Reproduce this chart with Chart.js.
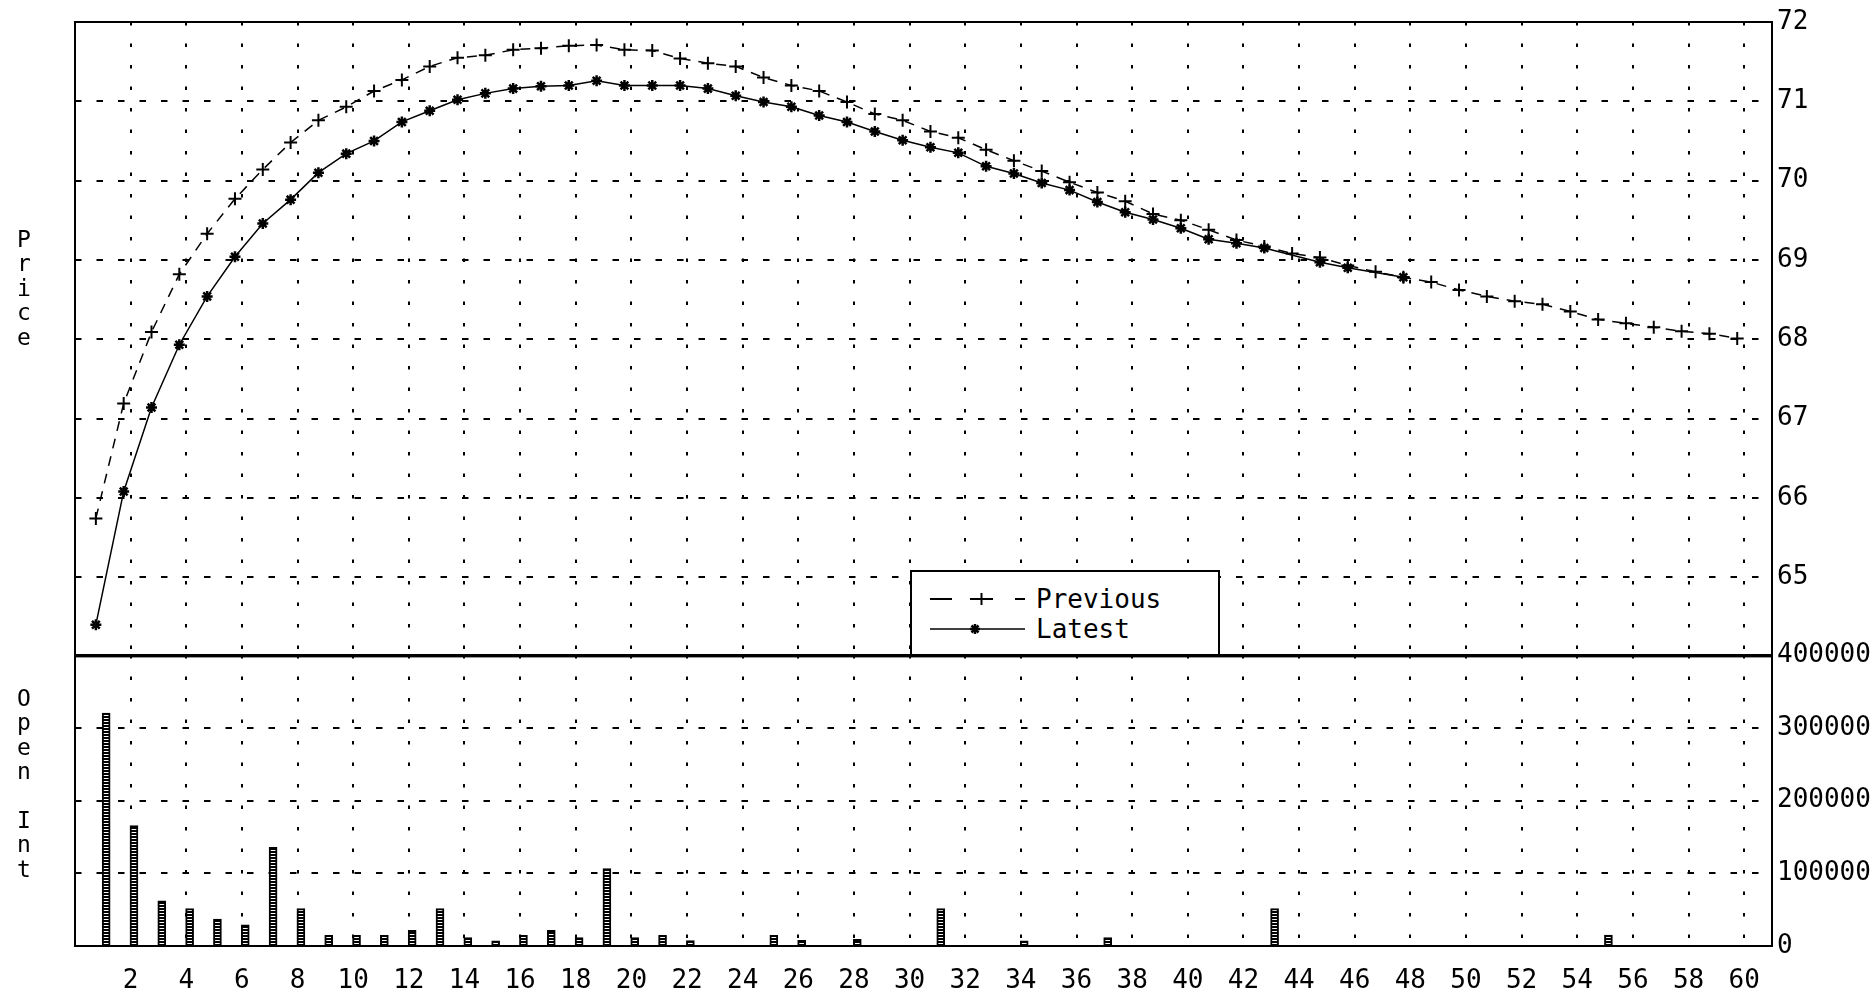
<!DOCTYPE html>
<html lang="en">
<head>
<meta charset="UTF-8">
<title>Price / Open Int</title>
<script src="https://cdn.jsdelivr.net/npm/chart.js@4.4.0/dist/chart.umd.min.js"></script>
<style>
    body { margin: 0; background: #fff; }
    #wrap { position: relative; width: 1875px; height: 992px; overflow: hidden; font-family: "DejaVu Sans Mono", monospace; color: #000; }
    #priceCanvas { position: absolute; left: 0; top: 0; }
    #oiCanvas { position: absolute; left: 0; top: 630px; }
    .ytitle { position: absolute; left: 12px; width: 24px; text-align: center; font-size: 23px; line-height: 24.4px; }
    #legend { position: absolute; left: 910px; top: 570px; width: 310px; height: 86px; box-sizing: border-box; border: 2px solid #000; background: #fff; }
    #legend .row { position: absolute; left: 18px; height: 26px; display: flex; align-items: center; }
    #legend span { position: absolute; left: 106px; font-size: 26px; line-height: 26px; white-space: nowrap; }
</style>
</head>
<body>
<div id="wrap">
    <canvas id="priceCanvas" width="1875" height="677"></canvas>
    <canvas id="oiCanvas" width="1875" height="362"></canvas>
    <div class="ytitle" style="top:227px">P<br>r<br>i<br>c<br>e</div>
    <div class="ytitle" style="top:686px">O<br>p<br>e<br>n<br><br>I<br>n<br>t</div>
    <div id="legend">
        <div class="row" style="top:14px">
            <svg width="96" height="26">
                <line x1="0" y1="13" x2="22" y2="13" stroke="#000" stroke-width="2"/>
                <line x1="40" y1="13" x2="63" y2="13" stroke="#000" stroke-width="2"/>
                <line x1="51.5" y1="7" x2="51.5" y2="19" stroke="#000" stroke-width="2"/>
                <line x1="85" y1="13" x2="95" y2="13" stroke="#000" stroke-width="2"/>
            </svg>
            <span>Previous</span>
        </div>
        <div class="row" style="top:44px">
            <svg width="96" height="26">
                <line x1="0" y1="13" x2="95" y2="13" stroke="#000" stroke-width="1.5"/>
                <g stroke="#000" stroke-width="2.5">
                    <line x1="40" y1="13" x2="50" y2="13"/>
                    <line x1="45" y1="8" x2="45" y2="18"/>
                    <line x1="41.5" y1="9.5" x2="48.5" y2="16.5"/>
                    <line x1="48.5" y1="9.5" x2="41.5" y2="16.5"/>
                </g>
            </svg>
            <span>Latest</span>
        </div>
    </div>
</div>

<script>
    // contract days shown on the x axis
    const days = [1, 2, 3, 4, 5, 6, 7, 8, 9, 10, 11, 12, 13, 14, 15, 16, 17, 18, 19, 20,
                  21, 22, 23, 24, 25, 26, 27, 28, 29, 30, 31, 32, 33, 34, 35, 36, 37, 38, 39, 40,
                  41, 42, 43, 44, 45, 46, 47, 48, 49, 50, 51, 52, 53, 54, 55, 56, 57, 58, 59, 60];

    const previous = [65.74, 67.19, 68.09, 68.82, 69.33, 69.77, 70.14, 70.48, 70.76, 70.93,
                      71.13, 71.27, 71.44, 71.55, 71.58, 71.65, 71.67, 71.70, 71.71, 71.65,
                      71.64, 71.54, 71.48, 71.44, 71.30, 71.20, 71.13, 70.99, 70.84, 70.76,
                      70.62, 70.54, 70.39, 70.25, 70.12, 69.98, 69.85, 69.74, 69.58, 69.50,
                      69.38, 69.25, 69.17, 69.08, 69.03, 68.93, 68.85, 68.78, 68.72, 68.62,
                      68.54, 68.48, 68.44, 68.35, 68.25, 68.20, 68.15, 68.10, 68.07, 68.01];

    const latest = [64.40, 66.08, 67.14, 67.93, 68.54, 69.04, 69.46, 69.76, 70.10, 70.34,
                    70.50, 70.74, 70.88, 71.02, 71.10, 71.16, 71.19, 71.20, 71.26, 71.20,
                    71.20, 71.20, 71.16, 71.07, 70.99, 70.93, 70.82, 70.74, 70.62, 70.51,
                    70.42, 70.35, 70.18, 70.09, 69.97, 69.88, 69.73, 69.60, 69.51, 69.40,
                    69.26, 69.21, 69.15, null, 68.97, 68.90, null, 68.78, null, null,
                    null, null, null, null, null, null, null, null, null, null];

    const openInt = [320000, 165500, 62000, 51500, 37000, 29000, 135500, 51500, 14700, 14700,
                     14700, 21600, 51500, 11500, 7000, 14700, 21600, 11500, 106500, 11500,
                     14700, 7500, null, null, 14700, 7800, null, 9000, null, null,
                     51500, null, null, 7000, null, null, 11500, null, null, null,
                     null, null, 51500, null, null, null, null, null, null, null,
                     null, null, null, null, 15000, null, null, null, null, null];

    const priceTicks = [65, 66, 67, 68, 69, 70, 71, 72];
    const oiTicks = [0, 100000, 200000, 300000, 400000];

    const FONT = { family: '"DejaVu Sans Mono", monospace', size: 26 };
    Chart.defaults.color = '#000';
    Chart.defaults.animation = false;

    // black frame around each plot panel
    const framePlugin = {
        id: 'frame',
        afterDatasetsDraw(chart) {
            const a = chart.chartArea;
            const ctx = chart.ctx;
            ctx.save();
            ctx.strokeStyle = '#000';
            ctx.lineWidth = 2;
            ctx.strokeRect(a.left, a.top, a.right - a.left, a.bottom - a.top);
            ctx.restore();
        }
    };

    function gridAxisX(showLabels) {
        return {
            type: 'linear',
            min: 0,
            max: 61,
            offset: false,
            grid: { color: '#000', lineWidth: 2, drawTicks: false, offset: false },
            border: { display: false, dash: [3.5, 18] },
            ticks: {
                display: showLabels,
                stepSize: 2,
                includeBounds: false,
                autoSkip: false,
                maxRotation: 0,
                padding: 20,
                font: FONT,
                callback: v => (v === 0 ? '' : String(v))
            },
            afterFit: s => { s.height = showLabels ? 46 : 0; }
        };
    }

    const pts = arr => days.map((d, i) => ({ x: d, y: arr[i] }));

    // ---- price panel ----
    new Chart(document.getElementById('priceCanvas'), {
        type: 'line',
        data: {
            datasets: [
                {
                    label: 'Previous',
                    data: pts(previous),
                    xAxisID: 'xl',
                    borderColor: '#000',
                    borderWidth: 1.5,
                    borderDash: [10, 8],
                    pointStyle: 'cross',
                    pointRadius: 6.5,
                    pointBorderWidth: 2,
                    pointBorderColor: '#000',
                    pointBackgroundColor: '#000',
                    tension: 0,
                    spanGaps: true
                },
                {
                    label: 'Latest',
                    data: pts(latest),
                    xAxisID: 'xl',
                    borderColor: '#000',
                    borderWidth: 1.5,
                    pointStyle: 'star',
                    pointRadius: 5.5,
                    pointBorderWidth: 2.5,
                    pointBorderColor: '#000',
                    pointBackgroundColor: '#000',
                    tension: 0,
                    spanGaps: true
                }
            ]
        },
        options: {
            responsive: false,
            layout: { padding: { left: 75, top: 22, right: 0, bottom: 16 } },
            plugins: { legend: { display: false }, tooltip: { enabled: false } },
            scales: {
                x: gridAxisX(false),
                xl: { type: 'linear', display: false, offset: false, min: 0.25, max: 61.25 },
                y: {
                    position: 'right',
                    min: 64,
                    max: 72,
                    grid: { color: '#000', lineWidth: 2, drawTicks: false },
                    border: { display: true, color: '#000', width: 2, dash: [6.5, 15] },
                    afterBuildTicks: s => { s.ticks = [64].concat(priceTicks).map(v => ({ value: v })); },
                    ticks: {
                        padding: 5,
                        font: FONT,
                        callback: v => (priceTicks.includes(v) ? String(v) : '')
                    },
                    afterFit: s => { s.width = 103; }
                }
            }
        },
        plugins: [framePlugin]
    });

    // ---- open interest panel ----
    const pat = document.createElement('canvas');
    pat.width = 4;
    pat.height = 3;
    const pctx = pat.getContext('2d');
    pctx.fillStyle = '#000';
    pctx.fillRect(0, 0, 4, 3);
    pctx.fillStyle = '#fff';
    pctx.fillRect(0, 1, 4, 1);
    const barFill = pctx.createPattern(pat, 'repeat');

    new Chart(document.getElementById('oiCanvas'), {
        type: 'bar',
        data: {
            datasets: [{
                label: 'Open Int',
                data: pts(openInt),
                xAxisID: 'xb',
                backgroundColor: barFill,
                borderColor: '#000',
                borderWidth: 2,
                barThickness: 8
            }]
        },
        options: {
            responsive: false,
            layout: { padding: { left: 75, top: 25, right: 0, bottom: 0 } },
            plugins: { legend: { display: false }, tooltip: { enabled: false } },
            scales: {
                x: gridAxisX(true),
                xb: { type: 'linear', display: false, offset: false, grid: { offset: false }, min: -0.12, max: 60.88 },
                y: {
                    position: 'right',
                    min: 0,
                    max: 400000,
                    grid: { color: '#000', lineWidth: 2, drawTicks: false },
                    border: { display: true, color: '#000', width: 2, dash: [6.5, 15] },
                    afterBuildTicks: s => { s.ticks = oiTicks.map(v => ({ value: v })); },
                    ticks: { padding: 5, font: FONT, callback: v => String(v) },
                    afterFit: s => { s.width = 103; }
                }
            }
        },
        plugins: [framePlugin]
    });
</script>
</body>
</html>
